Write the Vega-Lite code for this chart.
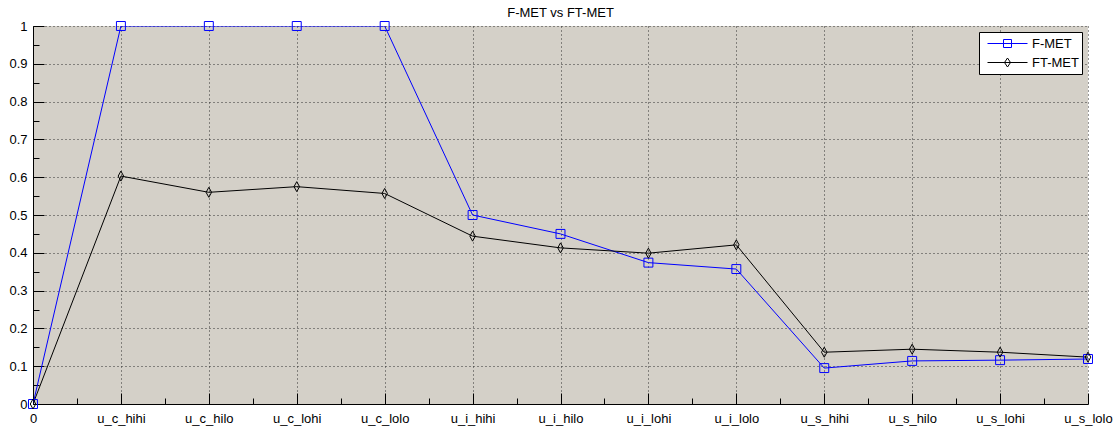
{
  "$schema": "https://vega.github.io/schema/vega-lite/v6.json",
  "width": 1055,
  "height": 378,
  "autosize": {"type": "none"},
  "padding": {"left": 33, "top": 26, "right": 30, "bottom": 27},
  "background": "white",
  "title": {"text": "F-MET vs FT-MET", "font": "Liberation Sans", "fontSize": 13, "fontWeight": "normal", "color": "black", "anchor": "middle", "offset": 0},
  "config": {
    "view": {"fill": "#D4D0C8", "stroke": null},
    "axis": {
      "labelFont": "Liberation Sans", "labelFontSize": 13, "labelColor": "black",
      "domainColor": "black", "domainWidth": 1, "tickColor": "black", "tickWidth": 1,
      "gridColor": "#303030", "gridDash": [1, 3], "gridWidth": 1,
      "labelFlush": false, "labelOverlap": false, "labelBound": false, "title": null
    }
  },
  "data": {"values": [
    {"x": 0, "series": "F-MET", "value": 0},
    {"x": 1, "series": "F-MET", "value": 1},
    {"x": 2, "series": "F-MET", "value": 1},
    {"x": 3, "series": "F-MET", "value": 1},
    {"x": 4, "series": "F-MET", "value": 1},
    {"x": 5, "series": "F-MET", "value": 0.5},
    {"x": 6, "series": "F-MET", "value": 0.45},
    {"x": 7, "series": "F-MET", "value": 0.374},
    {"x": 8, "series": "F-MET", "value": 0.357},
    {"x": 9, "series": "F-MET", "value": 0.095},
    {"x": 10, "series": "F-MET", "value": 0.114},
    {"x": 11, "series": "F-MET", "value": 0.116},
    {"x": 12, "series": "F-MET", "value": 0.119},
    {"x": 0, "series": "FT-MET", "value": 0},
    {"x": 1, "series": "FT-MET", "value": 0.603},
    {"x": 2, "series": "FT-MET", "value": 0.56},
    {"x": 3, "series": "FT-MET", "value": 0.575},
    {"x": 4, "series": "FT-MET", "value": 0.557},
    {"x": 5, "series": "FT-MET", "value": 0.444},
    {"x": 6, "series": "FT-MET", "value": 0.413},
    {"x": 7, "series": "FT-MET", "value": 0.399},
    {"x": 8, "series": "FT-MET", "value": 0.421},
    {"x": 9, "series": "FT-MET", "value": 0.137},
    {"x": 10, "series": "FT-MET", "value": 0.145},
    {"x": 11, "series": "FT-MET", "value": 0.137},
    {"x": 12, "series": "FT-MET", "value": 0.124}
  ]},
  "encoding": {
    "x": {
      "field": "x", "type": "quantitative",
      "scale": {"domain": [0, 12], "nice": false, "zero": false},
      "axis": {
        "values": [0, 0.5, 1, 1.5, 2, 2.5, 3, 3.5, 4, 4.5, 5, 5.5, 6, 6.5, 7, 7.5, 8, 8.5, 9, 9.5, 10, 10.5, 11, 11.5, 12],
        "labelExpr": "datum.value % 1 === 0 ? ['0','u_c_hihi','u_c_hilo','u_c_lohi','u_c_lolo','u_i_hihi','u_i_hilo','u_i_lohi','u_i_lolo','u_s_hihi','u_s_hilo','u_s_lohi','u_s_lolo'][datum.value] : ''",
        "tickSize": {"condition": {"test": "datum.value % 1 === 0", "value": -11}, "value": -6},
        "gridOpacity": {"condition": {"test": "datum.value % 1 === 0", "value": 1}, "value": 0},
        "labelPadding": 19
      }
    },
    "y": {
      "field": "value", "type": "quantitative",
      "scale": {"domain": [0, 1], "nice": false},
      "axis": {
        "values": [0, 0.05, 0.1, 0.15, 0.2, 0.25, 0.3, 0.35, 0.4, 0.45, 0.5, 0.55, 0.6, 0.65, 0.7, 0.75, 0.8, 0.85, 0.9, 0.95, 1],
        "labelExpr": "round(datum.value*20) % 2 === 0 ? format(datum.value, '~g') : ''",
        "tickSize": {"condition": {"test": "round(datum.value*20) % 2 === 0", "value": -11}, "value": -6},
        "gridOpacity": {"condition": {"test": "round(datum.value*20) % 2 === 0", "value": 1}, "value": 0},
        "labelPadding": 17
      }
    },
    "color": {
      "field": "series", "type": "nominal",
      "scale": {"domain": ["F-MET", "FT-MET"], "range": ["#0000ff", "#000000"]},
      "legend": {
        "title": null, "orient": "top-right", "offset": 6,
        "fillColor": "white", "strokeColor": "black", "padding": 3,
        "labelFont": "Liberation Sans", "labelFontSize": 13, "labelColor": "black",
        "symbolSize": 1600, "symbolStrokeWidth": 1, "clipHeight": 17, "rowPadding": 2,
        "labelOffset": 4, "symbolOffset": 5,
        "encode": {"symbols": {"update": {
          "shape": {"signal": "datum.value === 'F-MET' ? 'M-1,0L1,0M-0.2,-0.2L0.2,-0.2L0.2,0.2L-0.2,0.2Z' : 'M-1,0L1,0M0,-0.225L0.15,0L0,0.225L-0.15,0Z'"},
          "size": {"value": 1600},
          "fill": {"value": "transparent"},
          "strokeWidth": {"value": 1},
          "opacity": {"value": 1}
        }}}
      }
    }
  },
  "layer": [
    {"mark": {"type": "line", "strokeWidth": 1, "clip": true}},
    {
      "transform": [{"filter": "datum.series === 'F-MET'"}],
      "mark": {"type": "point", "shape": "square", "filled": false, "strokeWidth": 1, "opacity": 1, "size": 80}
    },
    {
      "transform": [{"filter": "datum.series === 'FT-MET'"}],
      "mark": {"type": "point", "shape": "M0,-1L0.55,0L0,1L-0.55,0Z", "filled": false, "strokeWidth": 1, "opacity": 1, "size": 100}
    }
  ]
}
